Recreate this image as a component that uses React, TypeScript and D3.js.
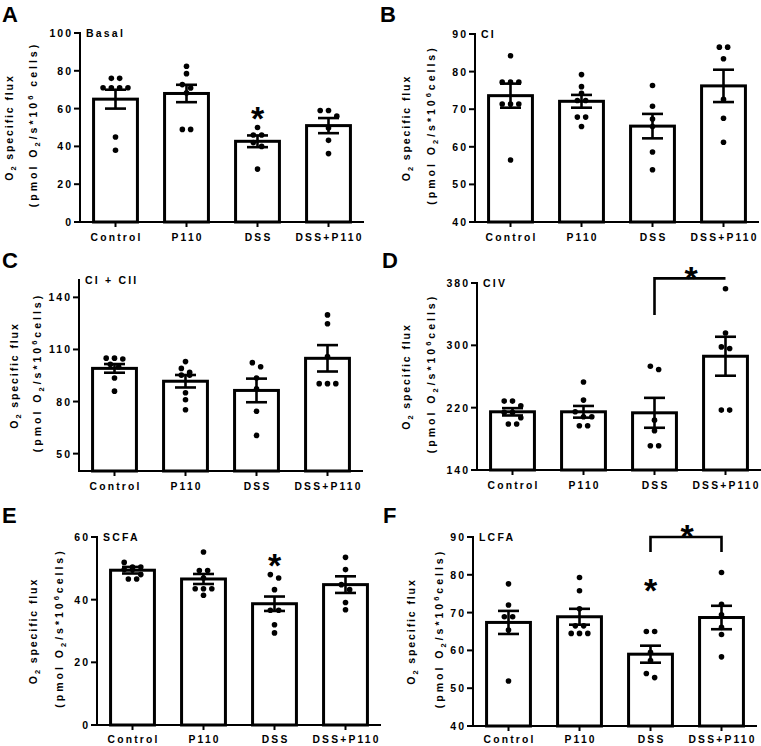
import React from "react";
import * as d3 from "d3";

const groups = ["Control", "P110", "DSS", "DSS+P110"];

// A - Basal
const basalMean = [65, 68, 42.7, 51];
const basalSem = [5, 4.6, 3.1, 4];
const basalPoints = [
  [76, 76, 71, 71, 71, 71, 45, 38],
  [82.4, 78.5, 72.7, 70.9, 68.3, 49, 49],
  [50, 46, 46, 42, 40, 28],
  [59, 59, 56, 49.7, 43.2, 36.2],
];
const basalTicks = [0, 20, 40, 60, 80, 100];

// B - CI
const ciMean = [73.6, 72.1, 65.5, 76.2];
const ciSem = [3.2, 1.7, 3.25, 4.3];
const ciPoints = [
  [84.2, 77.2, 77.2, 77.2, 71.4, 71.4, 71.4, 56.5],
  [79.2, 76, 74.2, 72.3, 72.3, 67.9, 67.9, 65.4],
  [76.3, 70.8, 67.4, 65.4, 58.6, 53.9],
  [86.5, 86.5, 83.4, 72.6, 67.6, 61.2],
];
const ciTicks = [40, 50, 60, 70, 80, 90];

// C - CI + CII
const ciiMean = [99.1, 91.7, 86.4, 104.9];
const ciiSem = [2.5, 3.6, 6.8, 7.6];
const ciiPoints = [
  [105, 104.5, 105, 101.4, 100, 93.6, 86],
  [103, 99.1, 96.8, 95.2, 95.2, 85.1, 81, 75.3],
  [102.4, 100, 93.6, 87.4, 74.4, 60.5],
  [129.9, 124.8, 105.9, 90.3, 90.3, 90.3],
];
const ciiTicks = [50, 80, 110, 140];

// D - CIV
const civMean = [214.7, 214.7, 213.4, 286];
const civSem = [4.7, 7.5, 19.2, 25];
const civPoints = [
  [228.4, 228.4, 222.4, 213.9, 213.9, 207, 199, 199],
  [253, 229.7, 214.7, 208.3, 208.3, 196.8, 196.8],
  [273.2, 269, 204, 190.4, 171.2, 171.2],
  [372.7, 315.9, 298, 296, 216.9, 216.9],
];
const civTicks = [140, 220, 300, 380];

// E - SCFA
const scfaMean = [49.4, 46.6, 38.7, 44.8];
const scfaSem = [1.05, 1.6, 2.3, 2.65];
const scfaPoints = [
  [51.9, 50.4, 50.4, 49.6, 49.6, 48, 46.6, 46.6],
  [55.2, 49.3, 49.3, 46.9, 43.5, 43.5, 43.5, 41.4],
  [48, 46.9, 43.2, 36.6, 36.6, 32, 29.4],
  [53.5, 49.6, 44.8, 43.2, 39.1, 36.8],
];
const scfaTicks = [0, 20, 40, 60];

// F - LCFA
const lcfaMean = [67.4, 68.9, 59, 68.7];
const lcfaSem = [3.05, 2.1, 2.25, 3.1];
const lcfaPoints = [
  [77.6, 72, 68.9, 68.9, 65.4, 51.9],
  [79.3, 75.8, 71, 66.5, 66.5, 64.5, 64.5, 64.5],
  [65, 65, 59.5, 57.3, 53.9, 52.8],
  [80.6, 72.2, 69.4, 66.1, 64.2, 58.3],
];
const lcfaTicks = [40, 50, 60, 70, 80, 90];

// significance marks: star over a group at a value
const basalStars = [{ group: "DSS", value: 58.5 }];
const scfaStars = [{ group: "DSS", value: 53.4 }];
const lcfaStars = [{ group: "DSS", value: 77.8 }];
const civBracket = { from: "DSS", to: "DSS+P110", value: 386, leftEnd: 339, rightEnd: 386, star: 396 };
const lcfaBracket = { from: "DSS", to: "DSS+P110", value: 90, leftEnd: 86, rightEnd: 86, star: 92.2 };

const FONT = "'Liberation Sans', Arial, Helvetica, sans-serif";

const panels = [
  { letter: "A", title: "Basal", mean: basalMean, sem: basalSem, points: basalPoints, ticks: basalTicks, domain: [0, 100], stars: basalStars, bracket: null, ax: 80, top: 33, bottom: 222, lab1: 67, lab2: 43, space: true, lx: 2, ly: 22 },
  { letter: "B", title: "CI", mean: ciMean, sem: ciSem, points: ciPoints, ticks: ciTicks, domain: [40, 90], stars: [], bracket: null, ax: 475, top: 34, bottom: 222, lab1: 65, lab2: 40, space: false, lx: 380, ly: 22 },
  { letter: "C", title: "CI + CII", mean: ciiMean, sem: ciiSem, points: ciiPoints, ticks: ciiTicks, domain: [40, 150], stars: [], bracket: null, ax: 79, top: 280, bottom: 471, lab1: 61, lab2: 38, space: false, lx: 2, ly: 268 },
  { letter: "D", title: "CIV", mean: civMean, sem: civSem, points: civPoints, ticks: civTicks, domain: [140, 380], stars: [], bracket: civBracket, ax: 477, top: 283, bottom: 470, lab1: 67, lab2: 42, space: false, lx: 382, ly: 268 },
  { letter: "E", title: "SCFA", mean: scfaMean, sem: scfaSem, points: scfaPoints, ticks: scfaTicks, domain: [0, 60], stars: scfaStars, bracket: null, ax: 97, top: 537, bottom: 725, lab1: 60, lab2: 34, space: false, lx: 2, ly: 523 },
  { letter: "F", title: "LCFA", mean: lcfaMean, sem: lcfaSem, points: lcfaPoints, ticks: lcfaTicks, domain: [40, 90], stars: lcfaStars, bracket: lcfaBracket, ax: 473, top: 537, bottom: 726, lab1: 58, lab2: 30, space: false, lx: 383, ly: 523 },
];

// GraphPad-like scatter: points close in y are spread symmetrically
function spread(values: number[], y: (v: number) => number, step = 8.3, thr = 6) {
  const sorted = values.map((v, i) => ({ i, y: y(v) })).sort((a, b) => a.y - b.y);
  const out: { y: number; dx: number }[] = new Array(values.length);
  let cluster: { i: number; y: number }[] = [];
  const flush = () => {
    cluster.forEach((p, k) => (out[p.i] = { y: p.y, dx: (k - (cluster.length - 1) / 2) * step }));
    cluster = [];
  };
  for (const p of sorted) {
    if (cluster.length && p.y - cluster[0].y > thr) flush();
    cluster.push(p);
  }
  flush();
  return out;
}

const Star = ({ x, y }: { x: number; y: number }) => (
  <text x={x} y={y + 19} textAnchor="middle" fontSize={34} fontWeight="bold" fontFamily={FONT}>*</text>
);

function Panel({ p }: { p: any }) {
  const yScale = d3.scaleLinear().domain(p.domain).range([p.bottom, p.top]);
  const xScale = d3.scaleBand().domain(groups).range([p.ax, p.ax + 284]).paddingInner(0.34).paddingOuter(0.17);
  const bw = xScale.bandwidth();
  const cx = (g: string) => (xScale(g) as number) + bw / 2;
  const midY = (p.top + p.bottom) / 2;
  const ls = 2.2;
  const labelY = Math.min(p.bottom + 19, 743);

  return (
    <g fontFamily={FONT} fontWeight="bold" fill="#000">
      <text x={p.lx} y={p.ly} fontSize={22} fontWeight="bold">{p.letter}</text>

      {/* bars */}
      {groups.map((g, i) => (
        <rect key={g} x={(xScale(g) as number) + 1.5} y={yScale(p.mean[i])} width={bw - 3}
          height={p.bottom - yScale(p.mean[i])} fill="#fff" stroke="#000" strokeWidth={3} />
      ))}

      {/* points */}
      {groups.map((g, i) =>
        spread(p.points[i], yScale).map((d, k) => (
          <circle key={g + k} cx={cx(g) + d.dx} cy={d.y} r={2.8} fill="#000" />
        ))
      )}

      {/* error bars */}
      {groups.map((g, i) => {
        const y1 = yScale(p.mean[i] + p.sem[i]);
        const y0 = yScale(p.mean[i] - p.sem[i]);
        const c = cx(g);
        return (
          <g key={g} stroke="#000" strokeWidth={2.6}>
            <line x1={c} x2={c} y1={y1} y2={y0} />
            <line x1={c - 10.5} x2={c + 10.5} y1={y1} y2={y1} />
            <line x1={c - 10.5} x2={c + 10.5} y1={y0} y2={y0} />
          </g>
        );
      })}

      {/* axes */}
      <line x1={p.ax} x2={p.ax} y1={p.top - 1} y2={p.bottom + 1} stroke="#000" strokeWidth={2} />
      <line x1={p.ax - 1} x2={p.ax + 284} y1={p.bottom} y2={p.bottom} stroke="#000" strokeWidth={2} />
      {p.ticks.map((t: number) => (
        <g key={t}>
          <line x1={p.ax - 6} x2={p.ax} y1={yScale(t)} y2={yScale(t)} stroke="#000" strokeWidth={2} />
          <text x={p.ax - 7} y={yScale(t) + 4} textAnchor="end" fontSize={10.5} style={{ letterSpacing: 2 }}>{t}</text>
        </g>
      ))}
      {groups.map((g) => (
        <g key={g}>
          <line x1={cx(g)} x2={cx(g)} y1={p.bottom} y2={p.bottom + 5} stroke="#000" strokeWidth={2} />
          <text x={cx(g) + ls / 2} y={labelY} textAnchor="middle" fontSize={10.3} style={{ letterSpacing: ls }}>{g}</text>
        </g>
      ))}

      {/* title */}
      <text x={p.ax + 6} y={p.top + 4} fontSize={10.5} style={{ letterSpacing: 2.2 }}>{p.title}</text>

      {/* y label */}
      <text transform={`translate(${p.ax - p.lab1},${midY}) rotate(-90)`} textAnchor="middle" fontSize={10.5} style={{ letterSpacing: 1.9 }}>
        <tspan>O</tspan><tspan dy={3} fontSize={7.5}>2</tspan><tspan dy={-3}> specific flux</tspan>
      </text>
      <text transform={`translate(${p.ax - p.lab2},${midY - 3}) rotate(-90)`} textAnchor="middle" fontSize={10.5} style={{ letterSpacing: 3 }}>
        <tspan>(pmol O</tspan><tspan dy={3} fontSize={7.5}>2</tspan><tspan dy={-3}>/s*10</tspan>
        <tspan dy={-4} fontSize={7.5}>6</tspan><tspan dy={4}>{p.space ? " cells)" : "cells)"}</tspan>
      </text>

      {/* significance */}
      {p.stars.map((s: any, k: number) => (
        <Star key={k} x={cx(s.group)} y={yScale(s.value)} />
      ))}
      {p.bracket && (
        <g>
          <path
            d={`M${cx(p.bracket.from)},${yScale(p.bracket.leftEnd)}V${yScale(p.bracket.value)}H${cx(p.bracket.to)}V${yScale(p.bracket.rightEnd)}`}
            fill="none" stroke="#000" strokeWidth={2.6} />
          <Star x={(cx(p.bracket.from) + cx(p.bracket.to)) / 2 + 1} y={yScale(p.bracket.star)} />
        </g>
      )}
    </g>
  );
}

export default function App() {
  return (
    <svg width={761} height={746} style={{ position: "absolute", left: 0, top: 0, background: "#fff" }}>
      <rect width={761} height={746} fill="#fff" />
      {panels.map((p) => (
        <Panel key={p.letter} p={p} />
      ))}
    </svg>
  );
}
